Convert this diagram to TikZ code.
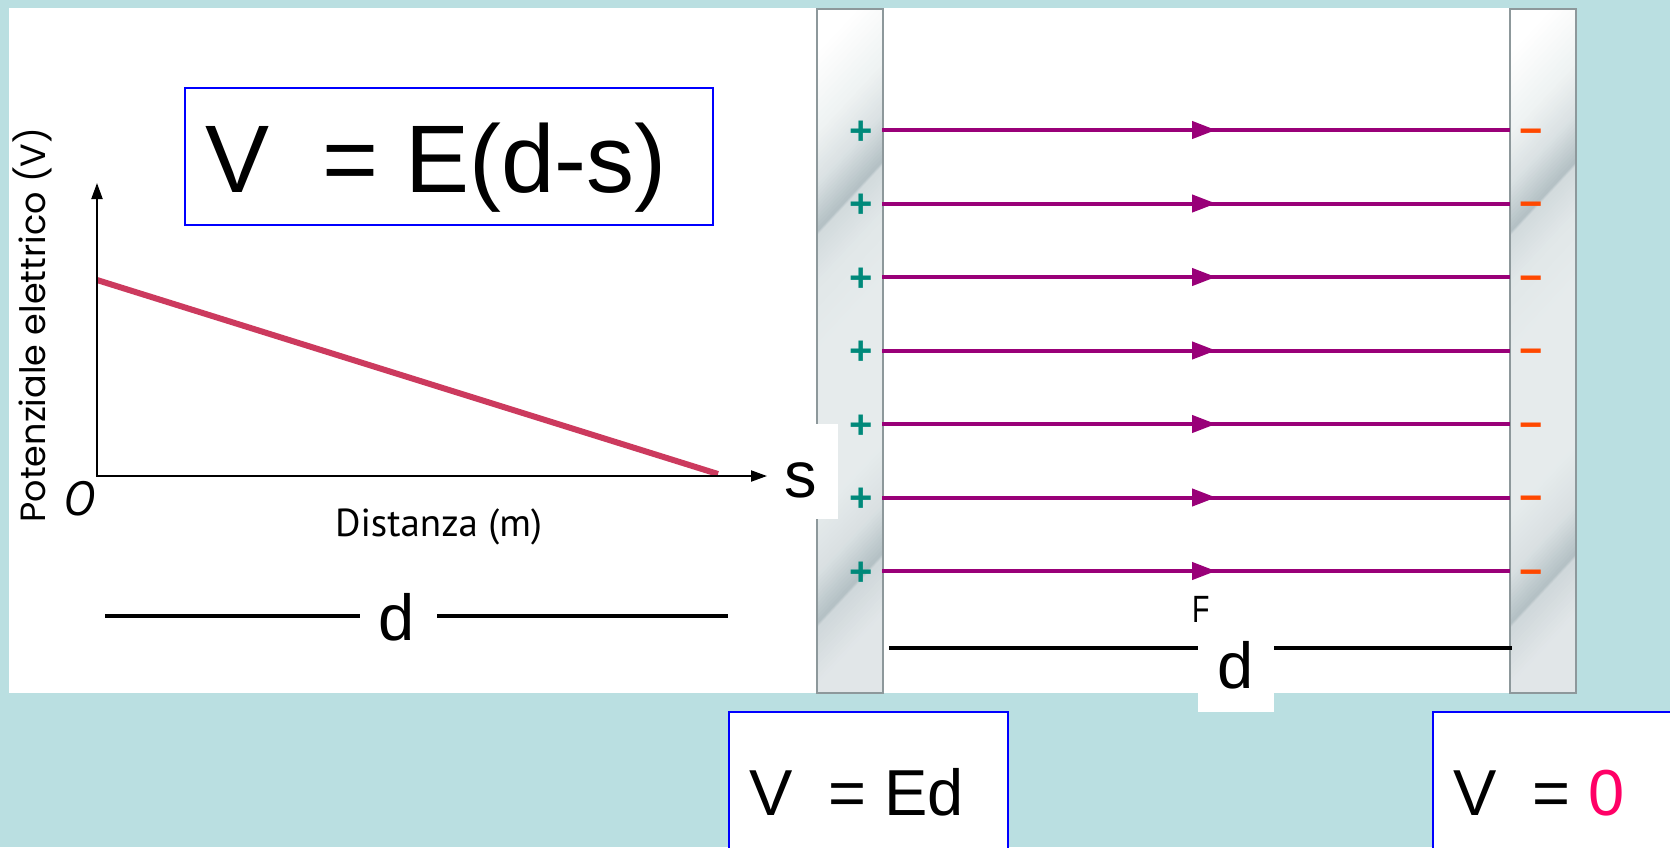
\documentclass[tikz,border=0pt]{standalone}
\usepackage{fontspec}
\setmainfont{Liberation Sans}
\newfontfamily\graphfont{PT Sans}
\newfontfamily\geofont{Poppins}
\usetikzlibrary{arrows.meta,decorations.markings}

\definecolor{bgcyan}{HTML}{BADFE1}
\definecolor{boxblue}{HTML}{0000FF}
\definecolor{fieldpurple}{HTML}{990078}
\definecolor{plusteal}{HTML}{00897A}
\definecolor{minusorange}{HTML}{FF4800}
\definecolor{potred}{HTML}{CC3A5E}
\definecolor{zeropink}{HTML}{FF0066}
\definecolor{plateedge}{HTML}{8D989B}
\definecolor{pw}{HTML}{FFFFFF}
\definecolor{pone}{HTML}{EEF2F2}
\definecolor{ptwo}{HTML}{DAE1E3}
\definecolor{pd}{HTML}{B3C0C4}
\definecolor{pthree}{HTML}{D2DADD}
\definecolor{pfour}{HTML}{E1E7E8}
\definecolor{pb}{HTML}{E6EBEC}
\definecolor{pfive}{HTML}{D9E0E2}
\definecolor{psix}{HTML}{CFD7DA}
\definecolor{pseven}{HTML}{E1E6E8}

% metallic plate fill: slanted strips, #1 = centre x of the plate
\newcommand\myplatefill[1]{%
  \foreach \ua/\ub/\ca/\cb in {-40/20/pw/pw, 20/100/pw/pone, 100/150/pone/ptwo, 150/197/ptwo/pd, 197/201/pd/pthree, 201/250/pthree/pfour, 250/320/pfour/pb, 320/480/pb/pb, 480/540/pb/pfive, 540/589/pfive/pd, 589/593/pd/psix, 593/650/psix/pseven, 650/750/pseven/pseven}{%
    \foreach \k in {0,...,11}{%
      \pgfmathsetmacro{\uu}{\ua+(\ub-\ua)*\k/12}%
      \pgfmathsetmacro{\uv}{\ua+(\ub-\ua)*(\k+1)/12+0.8}%
      \pgfmathsetmacro{\pct}{100-100*(\k+0.5)/12}%
      \fill[\ca!\pct!\cb] (#1-40,\uu+43) -- (#1+40,\uu-43) -- (#1+40,\uv-43) -- (#1-40,\uv+43) -- cycle;
    }%
  }%
}

\begin{document}
\begin{tikzpicture}[x=0.5pt,y=-0.5pt,
  txt/.style={inner sep=0pt, outer sep=0pt},
  bigformula/.style={txt, font=\fontsize{48pt}{50pt}\selectfont},
  midformula/.style={txt, font=\fontsize{32.5pt}{34pt}\selectfont},
  eqbox/.style={draw=boxblue, line width=1pt, fill=white, inner sep=0pt},
  plateframe/.style={draw=plateedge, line width=1pt, minimum width=33pt, minimum height=342pt, inner sep=0pt, outer sep=0pt},
  fieldline/.style={draw=fieldpurple, line width=2pt, postaction={decorate}, decoration={markings, mark=at position 0.532 with {\arrow[fieldpurple]{Triangle[length=12pt,width=8.5pt]}}}},
  axis/.style={line width=1pt, -{Triangle[length=8pt,width=5.5pt]}},
  dimline/.style={line width=1.7pt},
  plussign/.style={txt, text=plusteal, font=\fontsize{20pt}{20pt}\selectfont\bfseries},
  minussign/.style={txt, text=minusorange, font=\fontsize{20pt}{20pt}\selectfont\bfseries},
  cover/.style={fill=white, draw=none, inner sep=0pt, outer sep=0pt}
]
\useasboundingbox (0,0) rectangle (1670,847);
\clip (0,0) rectangle (1670,847);

% background and white panel
\fill[bgcyan] (0,0) rectangle (1670,847);
\fill[white] (9,8) rectangle (1576,693);

% formula boxes
\node[eqbox, minimum width=264pt, minimum height=68.5pt] (boxA) at (449,156.5) {};
\node[eqbox, minimum width=139.5pt, minimum height=94pt] (boxB) at (868.5,806) {};
\node[eqbox, minimum width=133.5pt, minimum height=94pt] (boxC) at (1566.5,806) {};

\node[bigformula, anchor=base west] (fA) at (205,192) {V~~= E(d-s)};
\node[midformula, anchor=base west] (fB) at (749,815) {V~~= Ed};
\node[midformula, anchor=base west] (fC) at (1453,815) {V~~= \textcolor{zeropink}{0}};

% graph
\coordinate (O) at (97,476);
\coordinate (ytip) at (97,183);
\coordinate (xtip) at (767,476);
\coordinate (v0) at (97,280);
\coordinate (v1) at (718,474);
\draw[potred, line width=3pt] (v0) -- (v1);
\draw[axis] (O) -- (ytip);
\draw[axis] (96,476) -- (xtip);

\node[txt, font=\geofont\fontsize{17.5pt}{18pt}\selectfont, rotate=90, anchor=base] (ylab) at (45,325) {Potenziale elettrico (V)};
\node[txt, font=\graphfont\itshape\fontsize{24pt}{24pt}\selectfont, anchor=base west] (olab) at (63,515) {O};
\node[txt, font=\graphfont\fontsize{19.5pt}{20pt}\selectfont, anchor=base west] (xlab) at (335,536) {Distanza (m)};

% left d dimension
\node[midformula, anchor=base] (d1) at (397,640) {d};
\coordinate (d1a) at (105,616);
\coordinate (d1b) at (360,616);
\coordinate (d1c) at (437,616);
\coordinate (d1d) at (728,616);
\draw[dimline] (d1a) -- (d1b);
\draw[dimline] (d1c) -- (d1d);

% plates
\begin{scope}
  \clip (816.5,9) rectangle (882.5,693);
  \myplatefill{849.5}
\end{scope}
\begin{scope}
  \clip (1510,9) rectangle (1576,693);
  \myplatefill{1543}
\end{scope}
\node[plateframe] (lp) at (849.5,351) {};
\node[plateframe] (rp) at (1543,351) {};

% field lines and charges
\foreach \i in {1,...,7}{
  \pgfmathsetmacro{\yy}{130+73.5*(\i-1)}
  \coordinate (a\i) at (882,\yy);
  \coordinate (b\i) at (1510,\yy);
  \draw[fieldline] (a\i) -- (b\i);
  \node[plussign, anchor=base] (p\i) at (861,\yy+14) {+};
  \node[minussign, anchor=base] (m\i) at (1531,\yy+14) {−};
}

% s label
\node[cover, minimum width=33pt, minimum height=47.5pt, anchor=north west] (sbox) at (772,424) {};
\node[midformula, anchor=base west] (slab) at (784,497) {s};

% right d dimension
\node[cover, minimum width=38pt, minimum height=56pt, anchor=north west] (dbox) at (1198,600) {};
\node[midformula, anchor=base] (d2) at (1236,688) {d};
\coordinate (d2a) at (889,648);
\coordinate (d2b) at (1198,648);
\coordinate (d2c) at (1274,648);
\coordinate (d2d) at (1512,648);
\draw[dimline] (d2a) -- (d2b);
\draw[dimline] (d2c) -- (d2d);

% F label
\node[txt, font=\fontsize{19pt}{19pt}\selectfont, anchor=base west] (flab) at (1192,622) {\scalebox{0.75}[1]{F}};
\end{tikzpicture}
\end{document}
